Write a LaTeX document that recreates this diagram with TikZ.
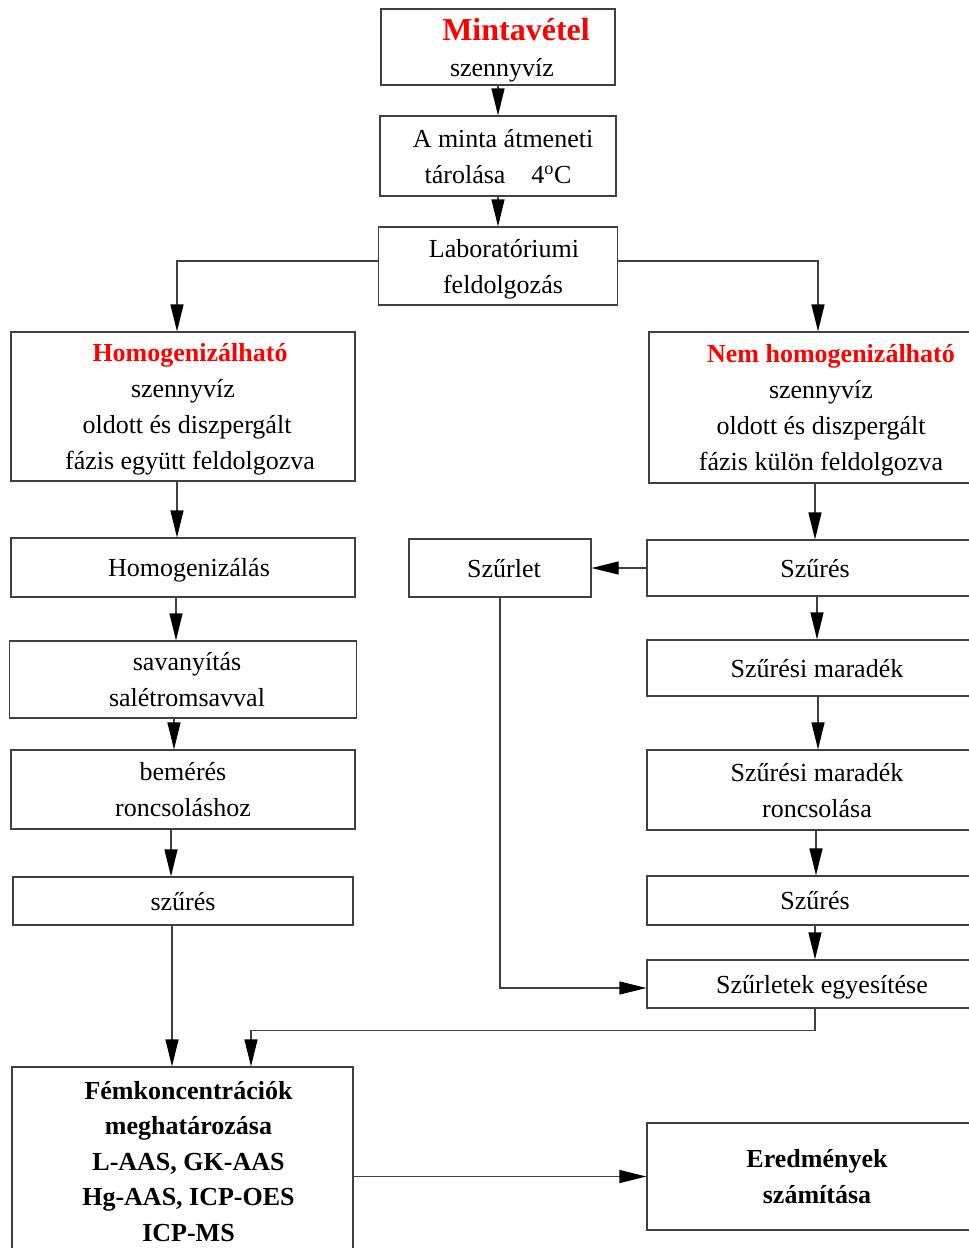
\documentclass[tikz,border=0pt]{standalone}
\usepackage{fontspec}
\setmainfont{Liberation Serif}
\usetikzlibrary{positioning, calc, arrows.meta}

\begin{document}
\begin{tikzpicture}[x=1pt,y=-1pt,node distance=100pt,on grid,
        box/.style={draw=black!75, line width=1.2pt, rectangle, align=center, inner sep=0pt,
                text depth=-3pt, font=\fontsize{26}{36}\selectfont},
        arr/.style={draw=black!75, line width=1.2pt, -{Triangle[length=27pt,width=13pt,color=black]}},
        line/.style={draw=black!75, line width=1.2pt}]
        \useasboundingbox (0,0) rectangle (969,1248);
        \clip (0,0) rectangle (969,1248);
        % middle column
        \node[box, minimum width=234pt, minimum height=76pt] at (498,47) (mint)
                {\hspace*{36pt}{\color{red}\bfseries\fontsize{32}{36}\selectfont Mintavétel}\\\hspace*{8pt}szennyvíz};
        \node[box, minimum width=236pt, minimum height=80pt, below=109pt of mint] (store)
                {\hspace*{10pt}A minta átmeneti\\tárolása\quad 4\textsuperscript{o}C};
        \node[box, minimum width=239pt, minimum height=78pt, below=110pt of store] (lab)
                {\hspace*{12pt}Laboratóriumi\\\hspace*{10pt}feldolgozás};
        % left column
        \node[box, minimum width=344pt, minimum height=149pt] at (183,406.5) (homo)
                {\hspace*{14pt}{\color{red}\bfseries Homogenizálható}\\szennyvíz\\\hspace*{8pt}oldott és diszpergált\\\hspace*{14pt}fázis\ együtt feldolgozva};
        \node[box, minimum width=344pt, minimum height=59pt, below=161pt of homo] (homog)
                {\hspace*{12pt}Homogenizálás};
        \node[box, minimum width=347pt, minimum height=77pt, below=112pt of homog] (sav)
                {\hspace*{8pt}savanyítás\\\hspace*{8pt}salétromsavval};
        \node[box, minimum width=344pt, minimum height=79pt, below=110pt of sav] (bem)
                {bemérés\\roncsoláshoz};
        \node[box, minimum width=340pt, minimum height=48pt, below=111.5pt of bem] (szures1)
                {szűrés};
        \node[box, minimum width=341pt, minimum height=188pt, font=\fontsize{26}{35.5}\selectfont\bfseries]
                at (182.5,1161) (fem)
                {\hspace*{12pt}Fémkoncentrációk\\\hspace*{12pt}meghatározása\\\hspace*{12pt}L-AAS, GK-AAS\\\hspace*{12pt}Hg-AAS, ICP-OES\\\hspace*{12pt}ICP-MS};
        % right column
        \node[box, minimum width=344pt, minimum height=151pt] at (821,407.5) (nem)
                {\hspace*{20pt}{\color{red}\bfseries Nem homogenizálható}\\szennyvíz\\oldott és diszpergált\\fázis\ külön feldolgozva};
        \node[box, minimum width=182pt, minimum height=58pt] at (500,568) (szurlet) {\hspace*{8pt}Szűrlet};
        \node[box, minimum width=336pt, minimum height=56pt, right=315pt of szurlet] (szures2) {Szűrés};
        \node[box, minimum width=340pt, minimum height=56pt] at (817,668) (marad) {Szűrési maradék};
        \node[box, minimum width=340pt, minimum height=80pt, below=122pt of marad] (ronc)
                {Szűrési maradék\\roncsolása};
        \node[box, minimum width=336pt, minimum height=49pt] at (815,900.5) (szures3) {Szűrés};
        \node[box, minimum width=350pt, minimum height=48pt] at (822,984) (egyes) {Szűrletek egyesítése};
        \node[box, minimum width=340pt, minimum height=107pt, font=\fontsize{26}{36}\selectfont\bfseries]
                at (817,1176.5) (ered) {Eredmények\\számítása};
        \draw[arr] (mint.south) -- (mint.south |- store.north);
        \draw[arr] (store.south) -- (store.south |- lab.north);
        \draw[arr] ([yshift=5pt]lab.west) -| ([xshift=-6pt]homo.north);
        \draw[arr] ([yshift=5pt]lab.east) -| ([xshift=-3pt]nem.north);
        \draw[arr] ([xshift=-6pt]homo.south) -- ([xshift=-6pt]homog.north);
        \draw[arr] ([xshift=-7pt]homog.south) -- ([xshift=-7pt]homog.south |- sav.north);
        \draw[arr] ([xshift=-9pt]sav.south) -- ([xshift=-9pt]sav.south |- bem.north);
        \draw[arr] ([xshift=-12pt]bem.south) -- ([xshift=-12pt]bem.south |- szures1.north);
        \draw[arr] ([xshift=-11pt]szures1.south) -- ([xshift=-11pt]szures1.south |- fem.north);
        \draw[arr] (fem.east |- ered.west) -- (ered.west);
        \draw[arr] (szures2.north |- nem.south) -- (szures2.north);
        \draw[arr] (szures2.west) -- (szurlet.east);
        \draw[arr] (marad.north |- szures2.south) -- (marad.north);
        \draw[arr] ([xshift=1pt]marad.south) -- ([xshift=1pt]marad.south |- ronc.north);
        \draw[arr] ([xshift=-1pt]ronc.south) -- ([xshift=-1pt]ronc.south |- szures3.north);
        \draw[arr] (szures3.south) -- (szures3.south |- egyes.north);
        \draw[arr] (szurlet.south) |- ([yshift=-4pt]egyes.west);
        \draw[arr] (szures3.south |- egyes.south) -- ++(0,22) -| ([xshift=68.5pt]fem.north);
\end{tikzpicture}
\end{document}
